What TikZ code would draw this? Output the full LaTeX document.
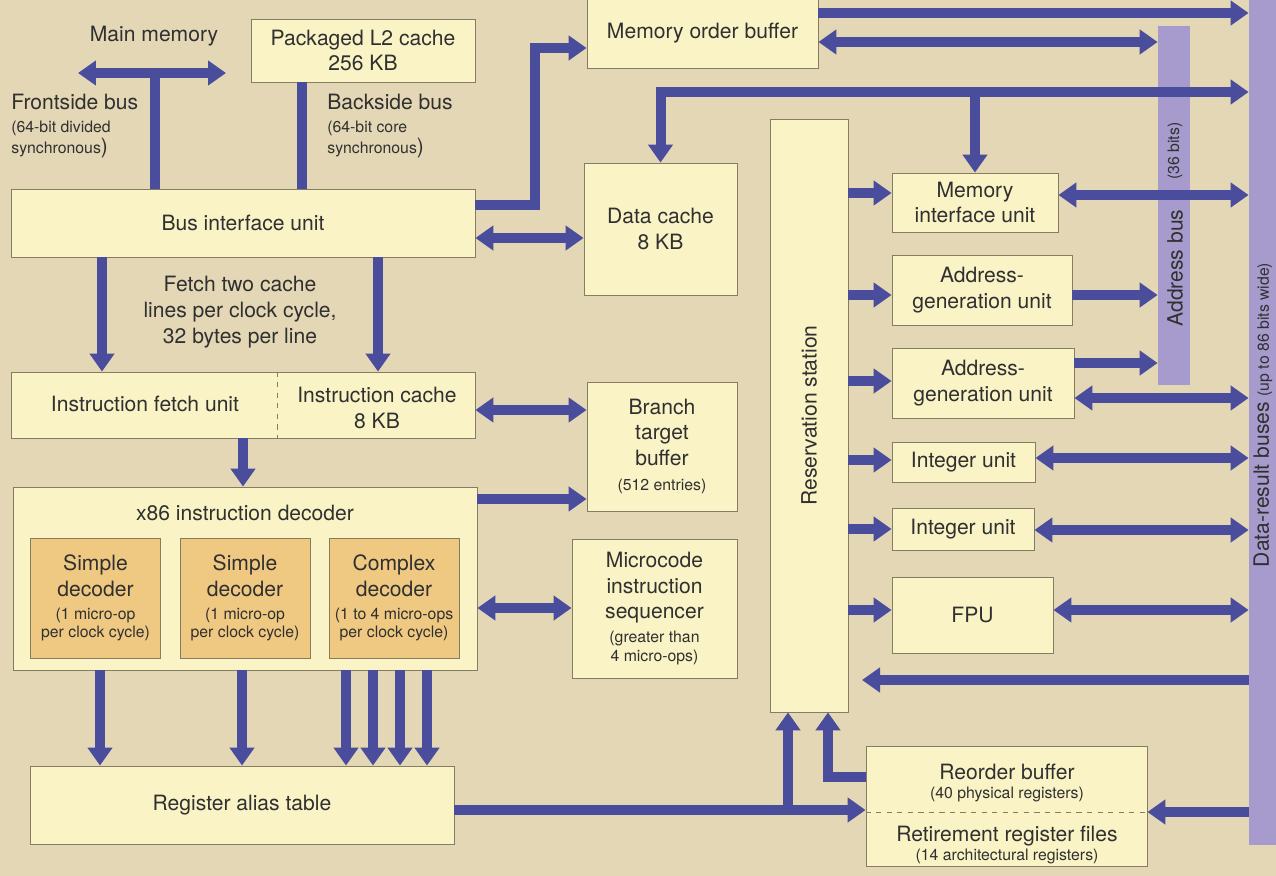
\documentclass[tikz,border=0pt]{standalone}
\usepackage{fontspec}
\setmainfont{TeX Gyre Heros}
\usetikzlibrary{arrows.meta, positioning}
\definecolor{pxBg}{HTML}{E4D7B6}
\definecolor{pxBox}{HTML}{FAF3C6}
\definecolor{pxDec}{HTML}{EFC882}
\definecolor{pxEdge}{HTML}{857D62}
\definecolor{pxInk}{HTML}{303030}
\definecolor{pxArrow}{HTML}{4A4C9C}
\definecolor{pxBus}{HTML}{A69BCC}
\newcommand\mainsz{\fontsize{12}{14.6}\selectfont}
\newcommand\notesz{\fontsize{9}{10.5}\selectfont}
\tikzset{
  >={Triangle[length=3.6mm, width=4.8mm]},
  blk/.style={
    draw=pxEdge, line width=0.5pt, fill=pxBox, inner sep=0pt,
    align=center, font=\mainsz, text=pxInk
  },
  subblk/.style={blk, fill=pxDec, minimum width=2.6cm, minimum height=2.4cm},
  busbar/.style={fill=pxBus, draw=none, inner sep=0pt},
  bus/.style={line width=2mm, draw=pxArrow},
  flow/.style={bus, ->},
  flowboth/.style={bus, <->},
  lbl/.style={font=\mainsz, text=pxInk, align=center, inner sep=0pt},
  note/.style={lbl, font=\notesz},
}
\begin{document}
\begin{tikzpicture}[x=0.02cm, y=-0.02cm]
  \useasboundingbox[fill=pxBg] (0,0) rectangle (1276,876);

  % address and data-result buses
  \node[busbar, minimum width=0.64cm, minimum height=7.18cm] (abus) at (1174,205.5) {};
  \node[busbar, minimum width=0.54cm, minimum height=16.9cm] (dbus) at (1262.5,422.5) {};
  \node[lbl, rotate=90] (abuslbl) at (1175,268) {Address bus};
  \node[note, rotate=90] (abuswd) at (1175,151) {(36 bits)};
  \node[lbl, rotate=90] (dbuslbl) at (1263,415) {Data-result buses {\notesz (up to 86 bits wide)}};

  % bus interface and fetch
  \node[lbl] (mm) at (154,36) {Main memory};
  \node[blk, minimum width=4.48cm, minimum height=1.26cm] (l2) at (363,50.5) {Packaged L2 cache\\256 KB};
  \node[lbl, align=left, anchor=west] (fsb) at (11,126)
    {Frontside bus\\[-1.5pt]{\notesz (64-bit divided}\\[-2.5pt]{\notesz synchronous})};
  \node[lbl, align=left, anchor=west] (bsb) at (327,126)
    {Backside bus\\[-1.5pt]{\notesz (64-bit core}\\[-2.5pt]{\notesz synchronous})};
  \node[blk, minimum width=9.28cm, minimum height=1.36cm] (biu) at (243,223) {Bus interface unit};
  \node[lbl] (fetch) at (240,312) {Fetch two cache\\lines per clock cycle,\\32 bytes per line};
  \node[blk, minimum width=9.28cm, minimum height=1.32cm] (ifbox) at (243,405) {};
  \node[lbl] (ifu) at (145,404) {Instruction fetch unit};
  \node[lbl] (icache) at (377,408) {Instruction cache\\8 KB};
  \draw[dashed, draw=pxEdge, line width=0.5pt] (ifbox.north -| 277,0) -- (ifbox.south -| 277,0);

  % decoders
  \node[blk, minimum width=9.28cm, minimum height=3.66cm] (dec) at (245,578.5) {};
  \node[lbl] (dectitle) at (245,513) {x86 instruction decoder};
  \node[subblk] (sd1) at (95.5,598)
    {Simple\\decoder\\[-1.5pt]{\notesz (1 micro-op}\\[-4pt]{\notesz per clock cycle)}};
  \node[subblk] (sd2) at (245,598)
    {Simple\\decoder\\[-1.5pt]{\notesz (1 micro-op}\\[-4pt]{\notesz per clock cycle)}};
  \node[subblk] (cd) at (394,598)
    {Complex\\decoder\\[-1.5pt]{\notesz (1 to 4 micro-ops}\\[-4pt]{\notesz per clock cycle)}};
  \node[blk, minimum width=8.48cm, minimum height=1.56cm] (rat) at (242,805) {Register alias table};

  % middle column
  \node[blk, minimum width=4.62cm, minimum height=1.4cm] (mob) at (702.5,33) {Memory order buffer};
  \node[blk, minimum width=3.06cm, minimum height=2.64cm] (dcache) at (660.5,229) {Data cache\\8 KB};
  \node[blk, minimum width=3cm, minimum height=2.58cm] (btb) at (662,446.5)
    {Branch\\target\\buffer\\{\notesz (512 entries)}};
  \node[blk, minimum width=3.3cm, minimum height=2.78cm] (mseq) at (654.5,608.5)
    {Microcode\\instruction\\sequencer\\[-1pt]{\notesz (greater than}\\[-4pt]{\notesz 4 micro-ops)}};
  \node[blk, minimum width=1.56cm, minimum height=11.86cm] (rs) at (809,415.5) {};
  \node[lbl, rotate=90] (rslbl) at (rs.center) {Reservation station};

  % execution units
  \node[blk, minimum width=3.32cm, minimum height=1.18cm] (miu) at (975,202.5) {Memory\\interface unit};
  \node[blk, minimum width=3.6cm, minimum height=1.4cm] (agu1) at (982,290) {Address-\\generation unit};
  \node[blk, minimum width=3.64cm, minimum height=1.4cm] (agu2) at (983,383) {Address-\\generation unit};
  \node[blk, minimum width=2.86cm, minimum height=0.8cm] (int1) at (963.5,462) {Integer unit};
  \node[blk, minimum width=2.84cm, minimum height=0.84cm] (int2) at (963,529) {Integer unit};
  \node[blk, minimum width=3.22cm, minimum height=1.52cm] (fpu) at (972.5,615) {FPU};

  % retirement
  \node[blk, minimum width=5.62cm, minimum height=2.4cm] (robbox) at (1006.5,806) {};
  \node[lbl] (rob) at (1007,783) {Reorder buffer\\[-3.6pt]{\notesz (40 physical registers)}};
  \node[lbl] (rrf) at (1007,845) {Retirement register files\\[-4.2pt]{\notesz (14 architectural registers)}};
  \draw[dashed, draw=pxEdge, line width=0.5pt] (robbox.west |- 0,812) -- (robbox.east |- 0,812);

  \coordinate (mmL) at (78,73);
  \coordinate (mmR) at (226,73);
  \coordinate (mmT) at (155,73);
  \coordinate (ratj) at (788,810);
  \coordinate (rsret) at (862,680);

  % external buses
  \draw[bus] (mmT) -- (mmT |- biu.north);
  \draw[flowboth] (mmL) -- (mmR);
  \draw[bus] (l2.south -| 302,0) -- (biu.north -| 302,0);

  % front end
  \draw[flow] (biu.east |- 0,205) -- (535,205) -- (535,48) -- (mob.west |- 0,48);
  \draw[flowboth] (biu.east |- 0,238) -- (dcache.west |- 0,238);
  \foreach \x in {102,378}
    \draw[flow] (biu.south -| \x,0) -- (ifbox.north -| \x,0);
  \draw[flow] (ifbox.south) -- (ifbox.south |- dec.north);
  \draw[flowboth] (ifbox.east |- 0,410) -- (btb.west |- 0,410);
  \draw[flow] (dec.east |- 0,499) -- (btb.west |- 0,499);
  \draw[flowboth] (dec.east |- 0,608) -- (mseq.west |- 0,608);
  \foreach \x in {100,242,346,373,400,427}
    \draw[flow] (dec.south -| \x,0) -- (rat.north -| \x,0);

  % rename and retire
  \draw[flow] (rat.east |- ratj) -- (robbox.west |- ratj);
  \draw[flow] (ratj) -- (ratj |- rs.south);
  \draw[flow] (robbox.west |- 0,777) -| (rs.south -| 828,0);

  % memory side
  \draw[flow] (mob.east |- 0,13) -- (dbus.west |- 0,13);
  \draw[flowboth] (mob.east |- 0,42) -- (abus.west |- 0,42);
  \draw[flowboth] (dcache.north) |- (dbus.west |- 0,92);
  \draw[flow] (miu.north |- 0,92) -- (miu.north);

  % dispatch and results
  \foreach \u/\y in {miu/193,agu1/295,agu2/381,int1/460,int2/529,fpu/610}
    \draw[flow] (rs.east |- 0,\y) -- (\u.west |- 0,\y);
  \draw[flowboth] (miu.east |- 0,195) -- (dbus.west |- 0,195);
  \draw[flow] (agu1.east |- 0,295) -- (abus.west |- 0,295);
  \draw[flow] (agu2.east |- 0,363) -- (abus.west |- 0,363);
  \draw[flowboth] (agu2.east |- 0,398) -- (dbus.west |- 0,398);
  \draw[flowboth] (int1.east |- 0,458) -- (dbus.west |- 0,458);
  \draw[flowboth] (int2.east |- 0,530) -- (dbus.west |- 0,530);
  \draw[flowboth] (fpu.east |- 0,610) -- (dbus.west |- 0,610);
  \draw[flow] (dbus.west |- rsret) -- (rsret);
  \draw[flow] (dbus.west |- 0,812) -- (robbox.east |- 0,812);
\end{tikzpicture}
\end{document}
